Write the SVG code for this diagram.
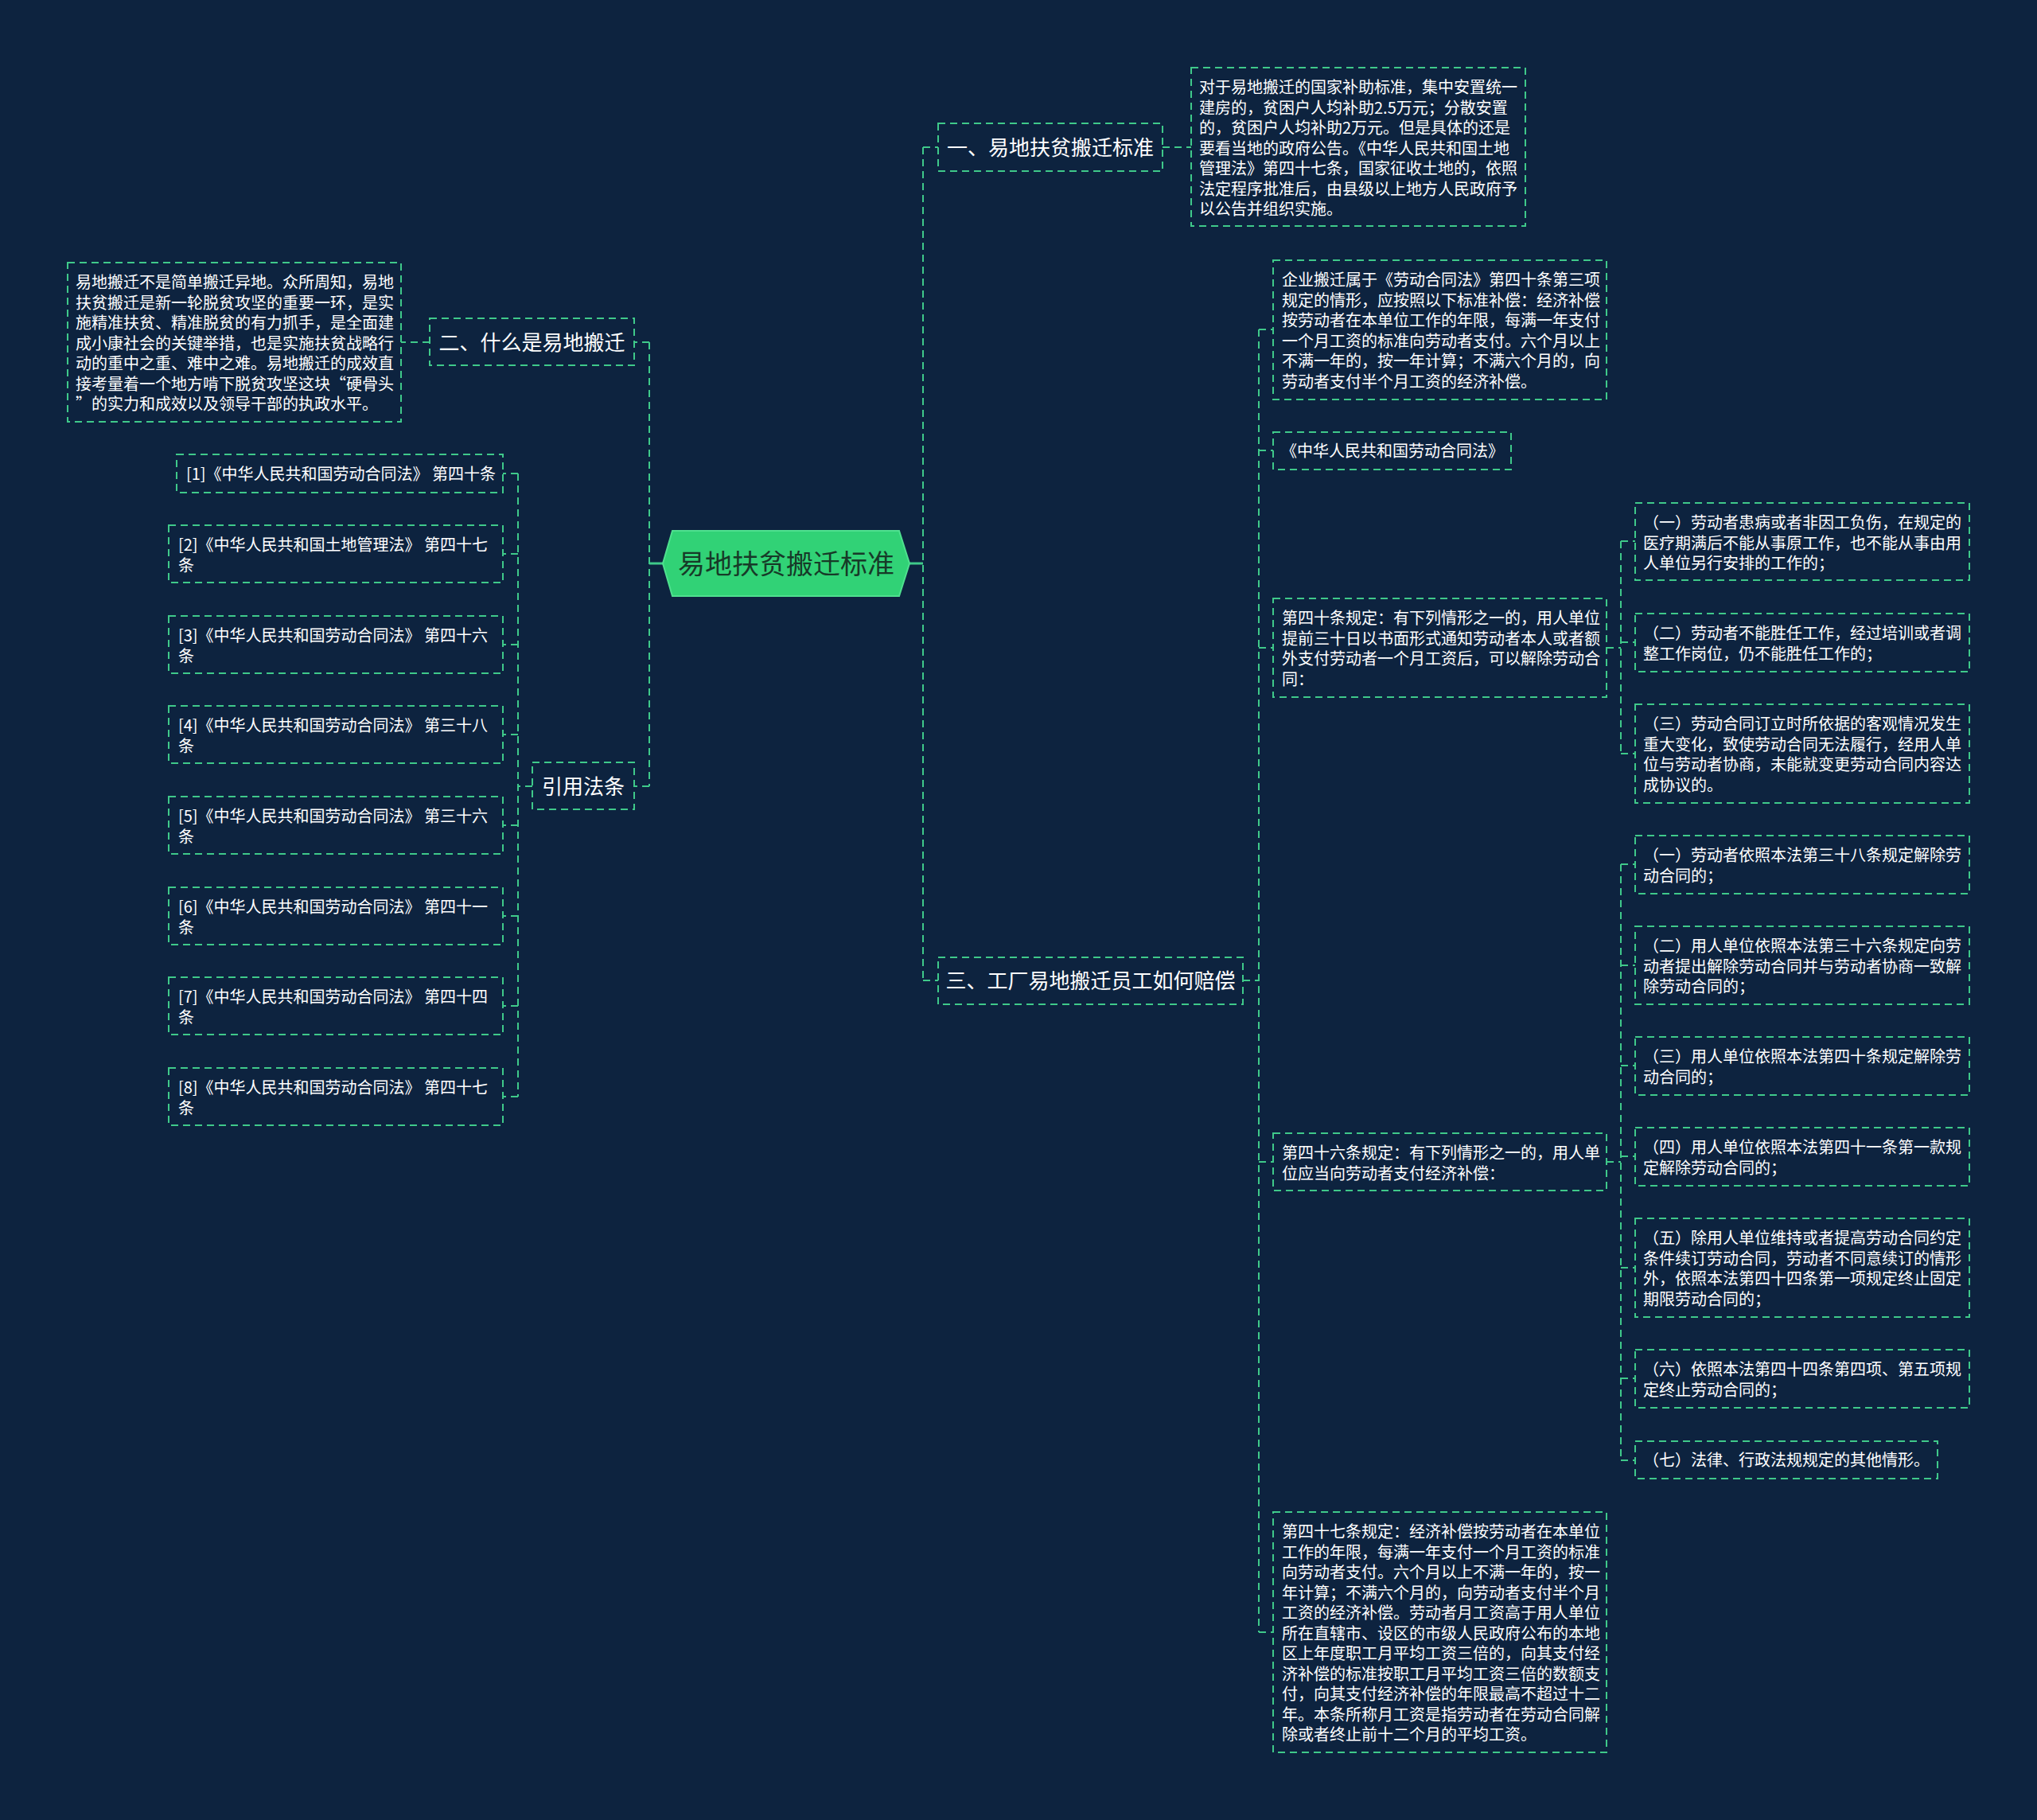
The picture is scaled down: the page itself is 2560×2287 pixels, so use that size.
<svg xmlns="http://www.w3.org/2000/svg" width="2560" height="2287" viewBox="0 0 2560 2287">
<style>
.bx{fill:none;stroke:#3fc98a;stroke-width:2;stroke-dasharray:9 6}
.ln{fill:none;stroke:#3fc98a;stroke-width:2;stroke-dasharray:9 6}
.sl{fill:none;stroke:#3fc98a;stroke-width:3}
.t{font-family:"Noto Sans CJK SC","Microsoft YaHei",sans-serif;fill:#ffffff;font-size:20px}
.tb{font-family:"Noto Sans CJK SC","Microsoft YaHei",sans-serif;fill:#ffffff;font-size:26px}
.tr{font-family:"Noto Sans CJK SC","Microsoft YaHei",sans-serif;fill:#173a28;font-size:34px}
</style>
<rect x="0" y="0" width="2560" height="2287" fill="#0d233f"/>

<g id="connectors">
<path class="sl" d="M833 708H816M1143 708H1160"/>
<path class="ln" d="M816 430V988M816 430H797M816 988H797"/>
<path class="ln" d="M540 430H504"/>
<path class="ln" d="M669 988H651M651 595V1378M651 595H632M651 696H632M651 810H632M651 923H632M651 1037H632M651 1151H632M651 1264H632M651 1378H632"/>
<path class="ln" d="M1160 185V1232M1160 185H1179M1160 1232H1179"/>
<path class="ln" d="M1461 185H1497"/>
<path class="ln" d="M1562 1232H1582M1582 414V2051M1582 414H1600M1582 566H1600M1582 814H1600M1582 1460H1600M1582 2051H1600"/>
<path class="ln" d="M2019 814H2037M2037 680V947M2037 680H2055M2037 807H2055M2037 947H2055"/>
<path class="ln" d="M2019 1460H2037M2037 1086V1835M2037 1086H2055M2037 1213H2055M2037 1339H2055M2037 1453H2055M2037 1593H2055M2037 1732H2055M2037 1835H2055"/>
</g>

<g id="root">
<polygon points="833,708 845,667 1130,667 1143,708 1130,749 845,749" fill="#31d276" stroke="#4fe08f" stroke-width="2"/>
<text class="tr" x="988" y="721" text-anchor="middle">易地扶贫搬迁标准</text>
</g>

<g id="b1">
<rect class="bx" x="1179" y="155" width="282" height="60"/>
<text class="tb" x="1320" y="195" text-anchor="middle">一、易地扶贫搬迁标准</text>
</g>
<g id="b1-leaf">
<rect class="bx" x="1497" y="85" width="420" height="199"/>
<text class="t" x="1507"><tspan x="1507" y="117">对于易地搬迁的国家补助标准，集中安置统一</tspan><tspan x="1507" y="142.5">建房的，贫困户人均补助2.5万元；分散安置</tspan><tspan x="1507" y="168">的，贫困户人均补助2万元。但是具体的还是</tspan><tspan x="1507" y="193.5">要看当地的政府公告。《中华人民共和国土地</tspan><tspan x="1507" y="219">管理法》第四十七条，国家征收土地的，依照</tspan><tspan x="1507" y="244.5">法定程序批准后，由县级以上地方人民政府予</tspan><tspan x="1507" y="270">以公告并组织实施。</tspan></text>
</g>

<g id="b2">
<rect class="bx" x="540" y="400" width="257" height="59"/>
<text class="tb" x="668.5" y="440" text-anchor="middle">二、什么是易地搬迁</text>
</g>
<g id="b2-leaf">
<rect class="bx" x="85" y="330" width="419" height="200"/>
<text class="t"><tspan x="95" y="362">易地搬迁不是简单搬迁异地。众所周知，易地</tspan><tspan x="95" y="387.5">扶贫搬迁是新一轮脱贫攻坚的重要一环，是实</tspan><tspan x="95" y="413">施精准扶贫、精准脱贫的有力抓手，是全面建</tspan><tspan x="95" y="438.5">成小康社会的关键举措，也是实施扶贫战略行</tspan><tspan x="95" y="464">动的重中之重、难中之难。易地搬迁的成效直</tspan><tspan x="95" y="489.5">接考量着一个地方啃下脱贫攻坚这块“硬骨头</tspan><tspan x="95" y="515">”的实力和成效以及领导干部的执政水平。</tspan></text>
</g>

<g id="b4">
<rect class="bx" x="669" y="958" width="128" height="59"/>
<text class="tb" x="733" y="998" text-anchor="middle">引用法条</text>
</g>
<g id="c1">
<rect class="bx" x="222" y="571" width="410" height="48"/>
<text class="t" x="234" y="603">[1]《中华人民共和国劳动合同法》 第四十条</text>
</g>
<g id="c2">
<rect class="bx" x="212" y="660" width="420" height="72"/>
<text class="t"><tspan x="224" y="692">[2]《中华人民共和国土地管理法》 第四十七</tspan><tspan x="224" y="717.5">条</tspan></text>
</g>
<g id="c3">
<rect class="bx" x="212" y="774" width="420" height="72"/>
<text class="t"><tspan x="224" y="806">[3]《中华人民共和国劳动合同法》 第四十六</tspan><tspan x="224" y="831.5">条</tspan></text>
</g>
<g id="c4">
<rect class="bx" x="212" y="887" width="420" height="72"/>
<text class="t"><tspan x="224" y="919">[4]《中华人民共和国劳动合同法》 第三十八</tspan><tspan x="224" y="944.5">条</tspan></text>
</g>
<g id="c5">
<rect class="bx" x="212" y="1001" width="420" height="72"/>
<text class="t"><tspan x="224" y="1033">[5]《中华人民共和国劳动合同法》 第三十六</tspan><tspan x="224" y="1058.5">条</tspan></text>
</g>
<g id="c6">
<rect class="bx" x="212" y="1115" width="420" height="72"/>
<text class="t"><tspan x="224" y="1147">[6]《中华人民共和国劳动合同法》 第四十一</tspan><tspan x="224" y="1172.5">条</tspan></text>
</g>
<g id="c7">
<rect class="bx" x="212" y="1228" width="420" height="72"/>
<text class="t"><tspan x="224" y="1260">[7]《中华人民共和国劳动合同法》 第四十四</tspan><tspan x="224" y="1285.5">条</tspan></text>
</g>
<g id="c8">
<rect class="bx" x="212" y="1342" width="420" height="72"/>
<text class="t"><tspan x="224" y="1374">[8]《中华人民共和国劳动合同法》 第四十七</tspan><tspan x="224" y="1399.5">条</tspan></text>
</g>

<g id="b3">
<rect class="bx" x="1179" y="1203" width="383" height="59"/>
<text class="tb" x="1370.5" y="1242" text-anchor="middle">三、工厂易地搬迁员工如何赔偿</text>
</g>
<g id="b3-l1">
<rect class="bx" x="1600" y="327" width="419" height="175"/>
<text class="t"><tspan x="1611" y="359">企业搬迁属于《劳动合同法》第四十条第三项</tspan><tspan x="1611" y="384.5">规定的情形，应按照以下标准补偿：经济补偿</tspan><tspan x="1611" y="410">按劳动者在本单位工作的年限，每满一年支付</tspan><tspan x="1611" y="435.5">一个月工资的标准向劳动者支付。六个月以上</tspan><tspan x="1611" y="461">不满一年的，按一年计算；不满六个月的，向</tspan><tspan x="1611" y="486.5">劳动者支付半个月工资的经济补偿。</tspan></text>
</g>
<g id="b3-l2">
<rect class="bx" x="1600" y="543" width="299" height="47"/>
<text class="t" x="1610" y="574">《中华人民共和国劳动合同法》</text>
</g>
<g id="b3-l3">
<rect class="bx" x="1600" y="752" width="419" height="124"/>
<text class="t"><tspan x="1611" y="784">第四十条规定：有下列情形之一的，用人单位</tspan><tspan x="1611" y="809.5">提前三十日以书面形式通知劳动者本人或者额</tspan><tspan x="1611" y="835">外支付劳动者一个月工资后，可以解除劳动合</tspan><tspan x="1611" y="860.5">同：</tspan></text>
</g>
<g id="s40-1">
<rect class="bx" x="2055" y="632" width="420" height="97"/>
<text class="t"><tspan x="2065" y="664">（一）劳动者患病或者非因工负伤，在规定的</tspan><tspan x="2065" y="689.5">医疗期满后不能从事原工作，也不能从事由用</tspan><tspan x="2065" y="715">人单位另行安排的工作的；</tspan></text>
</g>
<g id="s40-2">
<rect class="bx" x="2055" y="771" width="420" height="73"/>
<text class="t"><tspan x="2065" y="803">（二）劳动者不能胜任工作，经过培训或者调</tspan><tspan x="2065" y="828.5">整工作岗位，仍不能胜任工作的；</tspan></text>
</g>
<g id="s40-3">
<rect class="bx" x="2055" y="885" width="420" height="124"/>
<text class="t"><tspan x="2065" y="917">（三）劳动合同订立时所依据的客观情况发生</tspan><tspan x="2065" y="942.5">重大变化，致使劳动合同无法履行，经用人单</tspan><tspan x="2065" y="968">位与劳动者协商，未能就变更劳动合同内容达</tspan><tspan x="2065" y="993.5">成协议的。</tspan></text>
</g>
<g id="b3-l4">
<rect class="bx" x="1600" y="1424" width="419" height="72"/>
<text class="t"><tspan x="1611" y="1456">第四十六条规定：有下列情形之一的，用人单</tspan><tspan x="1611" y="1481.5">位应当向劳动者支付经济补偿：</tspan></text>
</g>
<g id="s46-1">
<rect class="bx" x="2055" y="1050" width="420" height="73"/>
<text class="t"><tspan x="2065" y="1082">（一）劳动者依照本法第三十八条规定解除劳</tspan><tspan x="2065" y="1107.5">动合同的；</tspan></text>
</g>
<g id="s46-2">
<rect class="bx" x="2055" y="1164" width="420" height="98"/>
<text class="t"><tspan x="2065" y="1196">（二）用人单位依照本法第三十六条规定向劳</tspan><tspan x="2065" y="1221.5">动者提出解除劳动合同并与劳动者协商一致解</tspan><tspan x="2065" y="1247">除劳动合同的；</tspan></text>
</g>
<g id="s46-3">
<rect class="bx" x="2055" y="1303" width="420" height="73"/>
<text class="t"><tspan x="2065" y="1335">（三）用人单位依照本法第四十条规定解除劳</tspan><tspan x="2065" y="1360.5">动合同的；</tspan></text>
</g>
<g id="s46-4">
<rect class="bx" x="2055" y="1417" width="420" height="73"/>
<text class="t"><tspan x="2065" y="1449">（四）用人单位依照本法第四十一条第一款规</tspan><tspan x="2065" y="1474.5">定解除劳动合同的；</tspan></text>
</g>
<g id="s46-5">
<rect class="bx" x="2055" y="1531" width="420" height="124"/>
<text class="t"><tspan x="2065" y="1563">（五）除用人单位维持或者提高劳动合同约定</tspan><tspan x="2065" y="1588.5">条件续订劳动合同，劳动者不同意续订的情形</tspan><tspan x="2065" y="1614">外，依照本法第四十四条第一项规定终止固定</tspan><tspan x="2065" y="1639.5">期限劳动合同的；</tspan></text>
</g>
<g id="s46-6">
<rect class="bx" x="2055" y="1696" width="420" height="73"/>
<text class="t"><tspan x="2065" y="1728">（六）依照本法第四十四条第四项、第五项规</tspan><tspan x="2065" y="1753.5">定终止劳动合同的；</tspan></text>
</g>
<g id="s46-7">
<rect class="bx" x="2055" y="1811" width="380" height="47"/>
<text class="t" x="2065" y="1842">（七）法律、行政法规规定的其他情形。</text>
</g>
<g id="b3-l5">
<rect class="bx" x="1600" y="1900" width="419" height="302"/>
<text class="t"><tspan x="1611" y="1932">第四十七条规定：经济补偿按劳动者在本单位</tspan><tspan x="1611" y="1957.5">工作的年限，每满一年支付一个月工资的标准</tspan><tspan x="1611" y="1983">向劳动者支付。六个月以上不满一年的，按一</tspan><tspan x="1611" y="2008.5">年计算；不满六个月的，向劳动者支付半个月</tspan><tspan x="1611" y="2034">工资的经济补偿。劳动者月工资高于用人单位</tspan><tspan x="1611" y="2059.5">所在直辖市、设区的市级人民政府公布的本地</tspan><tspan x="1611" y="2085">区上年度职工月平均工资三倍的，向其支付经</tspan><tspan x="1611" y="2110.5">济补偿的标准按职工月平均工资三倍的数额支</tspan><tspan x="1611" y="2136">付，向其支付经济补偿的年限最高不超过十二</tspan><tspan x="1611" y="2161.5">年。本条所称月工资是指劳动者在劳动合同解</tspan><tspan x="1611" y="2187">除或者终止前十二个月的平均工资。</tspan></text>
</g>
</svg>
